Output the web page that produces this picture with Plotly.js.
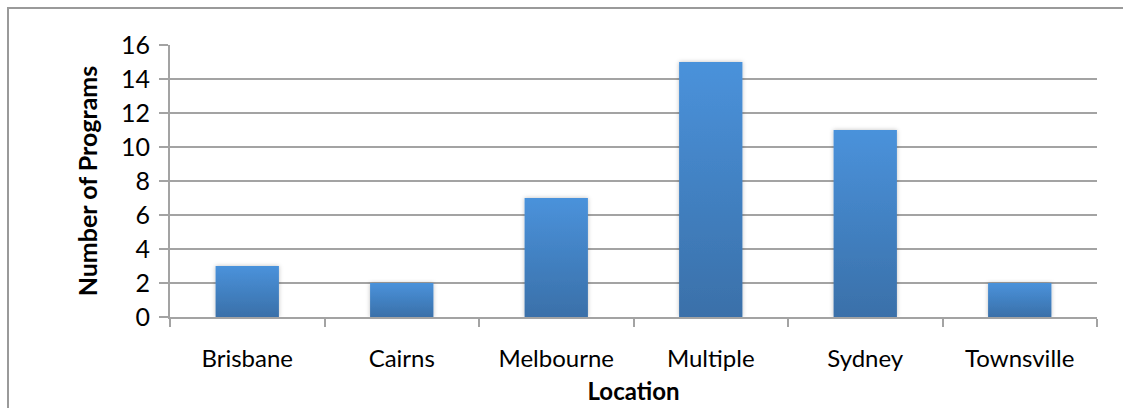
<!DOCTYPE html>
<html>
<head>
<meta charset="utf-8">
<script src="https://cdn.plot.ly/plotly-3.0.1.min.js"></script>
<style>
  html, body { margin: 0; padding: 0; background: #fff; overflow: hidden; }
  #wrap { position: relative; width: 1123px; height: 408px; }
  #chart { width: 1123px; height: 408px; }
  #frame { position: absolute; left: 7px; top: 7px; width: 1200px; height: 500px;
           border-left: 2px solid #9a9a9a; border-top: 2px solid #9a9a9a; pointer-events: none; }
</style>
</head>
<body>
<div id="wrap">
<div id="chart"></div>
<div id="frame"></div>
</div>
<script>
const categories = ["Brisbane", "Cairns", "Melbourne", "Multiple", "Sydney", "Townsville"];
const programCounts = [3, 2, 7, 15, 11, 2];
const yTickValues = [0, 2, 4, 6, 8, 10, 12, 14, 16];

const FONT = "Lato, 'Open Sans', sans-serif";
const GRID = "#a3a3a3";

const trace = {
  type: "bar",
  x: categories,
  y: programCounts,
  width: 0.41,
  marker: { color: "#4583c6", line: { width: 0 } },
  hoverinfo: "x+y"
};

const layout = {
  width: 1123,
  height: 408,
  margin: { l: 170, r: 26, t: 45, b: 91 },
  paper_bgcolor: "#fff",
  plot_bgcolor: "#fff",
  showlegend: false,
  font: { family: FONT, color: "#000", size: 24 },
  xaxis: {
    type: "category",
    tickson: "boundaries",
    ticks: "outside",
    ticklen: 8,
    tickwidth: 2,
    tickcolor: GRID,
    showline: true,
    linecolor: GRID,
    linewidth: 2,
    showgrid: false,
    ticklabelstandoff: 19,
    tickfont: { family: FONT, size: 24, color: "#000" },
    title: { text: "Location", font: { family: FONT, size: 24, color: "#000", weight: "bold" }, standoff: 12 }
  },
  yaxis: {
    range: [0, 16],
    tickvals: yTickValues,
    ticks: "outside",
    ticklen: 9,
    tickwidth: 2,
    tickcolor: GRID,
    showline: true,
    linecolor: GRID,
    linewidth: 2,
    showgrid: true,
    gridcolor: GRID,
    gridwidth: 2,
    zeroline: false,
    ticklabelstandoff: 4,
    tickfont: { family: FONT, size: 25, color: "#000" },
    title: { text: "Number of Programs", font: { family: FONT, size: 25, color: "#000", weight: "bold" }, standoff: 16 }
  }
};

Plotly.newPlot("chart", [trace], layout, { displayModeBar: false, staticPlot: true }).then(function (gd) {
  const svg = gd.querySelector("svg.main-svg");
  const ns = "http://www.w3.org/2000/svg";
  let defs = svg.querySelector("defs");
  if (!defs) { defs = document.createElementNS(ns, "defs"); svg.insertBefore(defs, svg.firstChild); }
  const grad = document.createElementNS(ns, "linearGradient");
  grad.setAttribute("id", "barGrad");
  grad.setAttribute("x1", "0"); grad.setAttribute("y1", "0");
  grad.setAttribute("x2", "0"); grad.setAttribute("y2", "1");
  [["0%", "#4a92db"], ["100%", "#3a70a9"]].forEach(function (s) {
    const stop = document.createElementNS(ns, "stop");
    stop.setAttribute("offset", s[0]);
    stop.setAttribute("stop-color", s[1]);
    grad.appendChild(stop);
  });
  defs.appendChild(grad);
  const filt = document.createElementNS(ns, "filter");
  filt.setAttribute("id", "barShadow");
  filt.setAttribute("x", "-20%"); filt.setAttribute("y", "-10%");
  filt.setAttribute("width", "140%"); filt.setAttribute("height", "120%");
  const fe = document.createElementNS(ns, "feDropShadow");
  fe.setAttribute("dx", "0"); fe.setAttribute("dy", "0");
  fe.setAttribute("stdDeviation", "2");
  fe.setAttribute("flood-color", "#000"); fe.setAttribute("flood-opacity", "0.25");
  filt.appendChild(fe);
  defs.appendChild(filt);
  gd.querySelectorAll(".barlayer .point path").forEach(function (p) {
    p.style.fill = "url(#barGrad)";
    p.setAttribute("filter", "url(#barShadow)");
  });
});
</script>
</body>
</html>
